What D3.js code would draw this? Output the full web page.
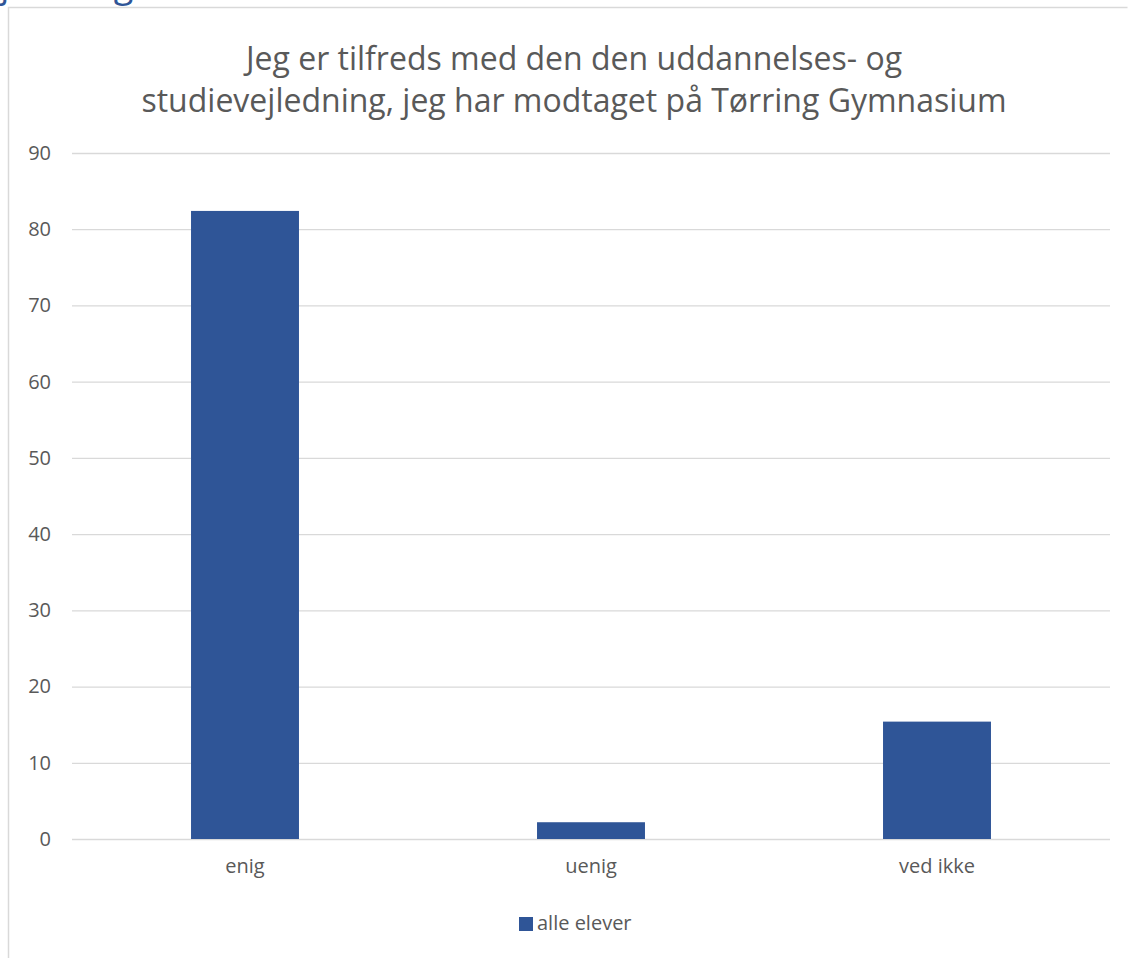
<!DOCTYPE html>
<html>
<head>
<meta charset="utf-8">
<script src="https://cdn.jsdelivr.net/npm/d3@7"></script>
<style>
  html, body { margin: 0; padding: 0; background: #fff; }
  svg { display: block; }
  text { font-family: "Open Sans", "Noto Sans", sans-serif; }
</style>
</head>
<body>
<svg id="chart" width="1128" height="958"></svg>
<script>
const categories = ["enig", "uenig", "ved ikke"];
const values = [82.4, 2.2, 15.4];
const seriesName = "alle elever";
const yTicks = [0, 10, 20, 30, 40, 50, 60, 70, 80, 90];
const titleLines = ["Jeg er tilfreds med den den uddannelses- og", "studievejledning, jeg har modtaget på Tørring Gymnasium"];

const svg = d3.select("#chart");
const W = 1128, H = 958;
const plot = { left: 72, right: 1110, top: 153, bottom: 839 };

// cut-off heading above the chart
svg.append("text")
  .attr("x", -38).attr("y", -3)
  .attr("fill", "#2F5597")
  .attr("font-size", 36)
  .text("vejledning");

// chart frame
svg.append("path")
  .attr("d", `M8.5,${H} V7.5 H1127.5`)
  .attr("fill", "none")
  .attr("stroke", "#d9d9d9")
  .attr("stroke-width", 1.5);

// title
svg.append("g").selectAll("text").data(titleLines).join("text")
  .attr("x", 574)
  .attr("y", (d, i) => 70 + i * 42)
  .attr("text-anchor", "middle")
  .attr("fill", "#595959")
  .attr("font-size", 32)
  .text(d => d);

const x = d3.scaleBand().domain(categories).range([plot.left, plot.right]).padding(0);
const y = d3.scaleLinear().domain([0, 90]).range([plot.bottom, plot.top]);

// gridlines
svg.append("g").selectAll("line").data(yTicks).join("line")
  .attr("x1", plot.left).attr("x2", plot.right)
  .attr("y1", d => y(d) + 0.5).attr("y2", d => y(d) + 0.5)
  .attr("stroke", "#d9d9d9").attr("stroke-width", 1.3);

// y axis labels
const yAxis = d3.axisLeft(y).tickValues(yTicks).tickSize(0).tickPadding(0);
const gy = svg.append("g").attr("transform", `translate(51,0)`).call(yAxis);
gy.select(".domain").remove();
gy.selectAll("text")
  .attr("fill", "#595959")
  .attr("font-size", 20)
  .attr("font-family", "\"Open Sans\", sans-serif");

// bars
const barW = x.bandwidth() * 0.312;
svg.append("g").selectAll("rect").data(values).join("rect")
  .attr("x", (d, i) => x(categories[i]) + x.bandwidth() / 2 - barW / 2)
  .attr("y", d => y(d))
  .attr("width", barW)
  .attr("height", d => y(0) - y(d))
  .attr("fill", "#2F5597");

// x axis labels
const xAxis = d3.axisBottom(x).tickSize(0).tickPadding(0);
const gx = svg.append("g").attr("transform", `translate(0,${plot.bottom + 20})`).call(xAxis);
gx.select(".domain").remove();
gx.selectAll("text")
  .attr("fill", "#595959")
  .attr("font-size", 20)
  .attr("font-family", "\"Open Sans\", sans-serif");

// legend
const lg = svg.append("g").attr("transform", "translate(519,917)");
lg.append("rect").attr("x", 0).attr("y", 0).attr("width", 14).attr("height", 14).attr("fill", "#2F5597");
lg.append("text").attr("x", 18).attr("y", 13).attr("fill", "#595959").attr("font-size", 20).text(seriesName);
</script>
</body>
</html>
